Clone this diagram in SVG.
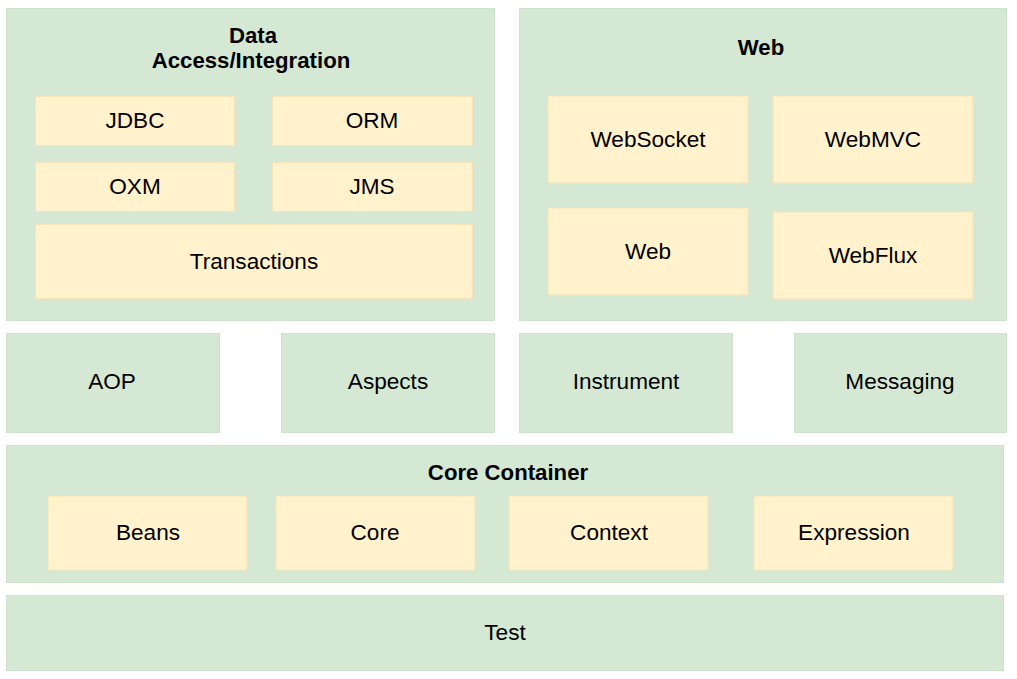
<svg xmlns="http://www.w3.org/2000/svg" width="1017" height="679" viewBox="0 0 1017 679">
<style>
.g{fill:#d5e8d4;stroke:#cde3cb;stroke-width:1}
.y{fill:#fff2cc;stroke:#f7e3b5;stroke-width:1}
text{font-family:"Liberation Sans",Arial,sans-serif;font-size:22.6px;fill:#000;text-anchor:middle}
.b{font-weight:bold;font-size:22.2px}
</style>
<rect width="1017" height="679" fill="#fff"/>
<g id="data-access">
<rect class="g" x="6.5" y="8.5" width="488" height="312"/>
<text class="b" x="253" y="43">Data</text>
<text class="b" x="251" y="68">Access/Integration</text>
</g>
<g id="jdbc"><rect class="y" x="35.5" y="96.5" width="199" height="49"/><text x="135" y="128">JDBC</text></g>
<g id="orm"><rect class="y" x="272.5" y="96.5" width="200" height="49"/><text x="372" y="128">ORM</text></g>
<g id="oxm"><rect class="y" x="35.5" y="162.5" width="199" height="49"/><text x="135" y="194">OXM</text></g>
<g id="jms"><rect class="y" x="272.5" y="162.5" width="200" height="49"/><text x="372" y="194">JMS</text></g>
<g id="transactions"><rect class="y" x="35.5" y="224.5" width="437" height="74"/><text x="254" y="269">Transactions</text></g>
<g id="web-group">
<rect class="g" x="519.5" y="8.5" width="487" height="312"/>
<text class="b" x="761" y="55">Web</text>
</g>
<g id="websocket"><rect class="y" x="548" y="96" width="200" height="87"/><text x="648" y="147">WebSocket</text></g>
<g id="webmvc"><rect class="y" x="773" y="96" width="200" height="87"/><text x="873" y="147">WebMVC</text></g>
<g id="web"><rect class="y" x="548" y="208" width="200" height="87"/><text x="648" y="259">Web</text></g>
<g id="webflux"><rect class="y" x="773" y="212" width="200" height="87"/><text x="873" y="263">WebFlux</text></g>
<g id="aop"><rect class="g" x="6.5" y="333.5" width="213" height="99"/><text x="112" y="389">AOP</text></g>
<g id="aspects"><rect class="g" x="281.5" y="333.5" width="213" height="99"/><text x="388" y="389">Aspects</text></g>
<g id="instrument"><rect class="g" x="519.5" y="333.5" width="213" height="99"/><text x="626" y="389">Instrument</text></g>
<g id="messaging"><rect class="g" x="794.5" y="333.5" width="212" height="99"/><text x="900" y="389">Messaging</text></g>
<g id="core-container">
<rect class="g" x="6.5" y="445.5" width="997" height="137"/>
<text class="b" x="508" y="480">Core Container</text>
</g>
<g id="beans"><rect class="y" x="48" y="496" width="199" height="74"/><text x="148" y="540">Beans</text></g>
<g id="core"><rect class="y" x="276" y="496" width="199" height="74"/><text x="375" y="540">Core</text></g>
<g id="context"><rect class="y" x="509" y="496" width="199" height="74"/><text x="609" y="540">Context</text></g>
<g id="expression"><rect class="y" x="754" y="496" width="199" height="74"/><text x="854" y="540">Expression</text></g>
<g id="test"><rect class="g" x="6.5" y="595.5" width="997" height="75"/><text x="505" y="640">Test</text></g>
<g id="connectors"></g>
</svg>
